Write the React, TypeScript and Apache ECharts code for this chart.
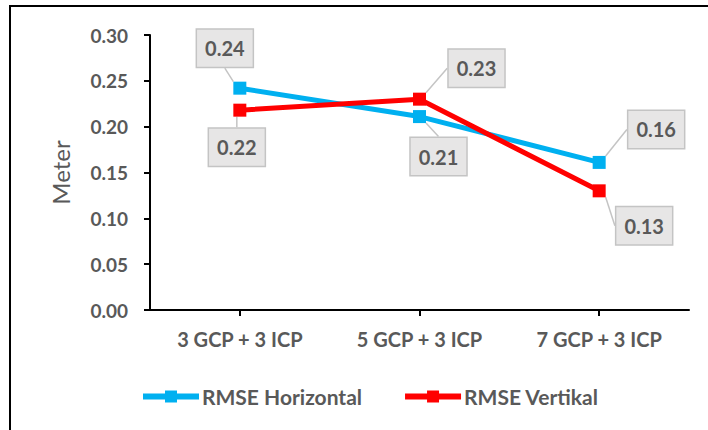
import React, { useEffect, useRef } from "react";
import * as echarts from "echarts";

const categories = ["3 GCP + 3 ICP", "5 GCP + 3 ICP", "7 GCP + 3 ICP"];
const horizontal = [0.242, 0.211, 0.161];
const vertikal = [0.218, 0.23, 0.13];
const horizontalLabels = ["0.24", "0.21", "0.16"];
const vertikalLabels = ["0.22", "0.23", "0.13"];
const seriesNames = ["RMSE Horizontal", "RMSE Vertikal"];

const hOffsets = [[-15, -40], [19, 40], [57, -33]];
const vOffsets = [[-3, 37], [57, -31], [45, 35]];

const FONT = "Lato, 'Open Sans', sans-serif";
const TXT = "#595959";

function makeLabel(texts: string[]) {
  return {
    show: true,
    position: "inside",
    formatter: (p: any) => texts[p.dataIndex],
    color: TXT,
    fontFamily: FONT,
    fontWeight: "bold",
    fontSize: 20,
    lineHeight: 22,
    backgroundColor: "#e7e6e6",
    borderColor: "#c4c4c4",
    borderWidth: 1.5,
    padding: [8, 8, 7, 8],
  };
}

export default function App() {
  const ref = useRef<HTMLDivElement>(null);
  useEffect(() => {
    if (!ref.current) return;
    const chart = echarts.init(ref.current, undefined, { renderer: "svg" });
    chart.setOption({
      animation: false,
      backgroundColor: "#ffffff",
      graphic: [
        {
          type: "rect",
          shape: { x: 10, y: 6, width: 740, height: 460 },
          style: { fill: "none", stroke: "#000", lineWidth: 2 },
          z: 100,
        },
      ],
      grid: { left: 150, top: 35, right: 19, bottom: 120 },
      legend: {
        left: 135,
        top: 381,
        itemWidth: 56,
        itemHeight: 15,
        itemGap: 40,
        lineStyle: { width: 6 },
        textStyle: { color: TXT, fontFamily: FONT, fontSize: 21, fontWeight: "bold", padding: [0, 0, 0, -2] },
        data: seriesNames,
      },
      xAxis: {
        type: "category",
        data: categories,
        boundaryGap: true,
        axisLine: { lineStyle: { color: "#000", width: 2 } },
        axisTick: { show: true, alignWithLabel: true, length: 6, lineStyle: { color: "#000", width: 2 } },
        axisLabel: { color: TXT, fontFamily: FONT, fontSize: 20, fontWeight: "bold", margin: 19 },
        splitLine: { show: false },
      },
      yAxis: {
        type: "value",
        min: 0,
        max: 0.3,
        interval: 0.05,
        name: "Meter",
        nameLocation: "middle",
        nameGap: 78,
        nameTextStyle: { color: TXT, fontFamily: FONT, fontSize: 24 },
        axisLine: { show: true, lineStyle: { color: "#000", width: 2 } },
        axisTick: { show: true, length: 6, lineStyle: { color: "#000", width: 2 } },
        axisLabel: {
          color: TXT,
          fontFamily: FONT,
          fontSize: 19,
          fontWeight: "bold",
          margin: 22,
          formatter: (v: number) => v.toFixed(2),
        },
        splitLine: { show: false },
      },
      series: [
        {
          name: seriesNames[0],
          type: "line",
          data: horizontal,
          color: "#00b0f0",
          lineStyle: { width: 5, color: "#00b0f0" },
          symbol: "rect",
          symbolSize: 13,
          itemStyle: { color: "#00b0f0" },
          label: makeLabel(horizontalLabels),
          labelLine: { show: true, lineStyle: { color: "#c4c4c4", width: 1.5 } },
          labelLayout: (p: any) => ({ dx: hOffsets[p.dataIndex][0], dy: hOffsets[p.dataIndex][1] }),
          z: 2,
        },
        {
          name: seriesNames[1],
          type: "line",
          data: vertikal,
          color: "#ff0000",
          lineStyle: { width: 5, color: "#ff0000" },
          symbol: "rect",
          symbolSize: 13,
          itemStyle: { color: "#ff0000" },
          label: makeLabel(vertikalLabels),
          labelLine: { show: true, lineStyle: { color: "#c4c4c4", width: 1.5 } },
          labelLayout: (p: any) => ({ dx: vOffsets[p.dataIndex][0], dy: vOffsets[p.dataIndex][1] }),
          z: 3,
        },
      ],
    });
    return () => chart.dispose();
  }, []);
  return (
    <div
      ref={ref}
      style={{ position: "absolute", left: 0, top: 0, width: 708, height: 430 }}
    />
  );
}
